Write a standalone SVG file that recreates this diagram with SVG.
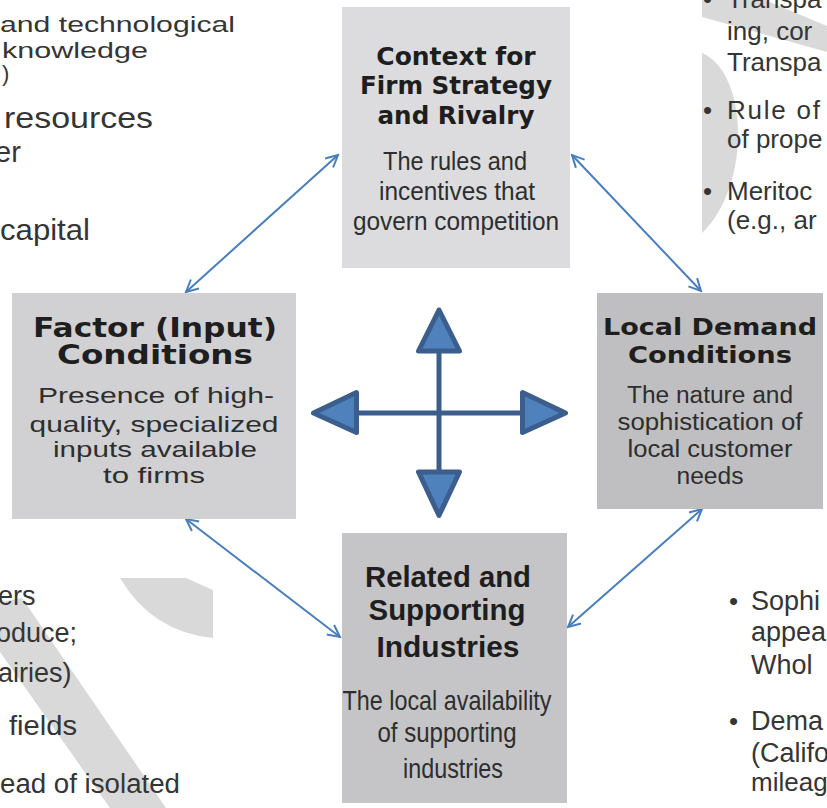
<svg xmlns="http://www.w3.org/2000/svg" width="827" height="808" viewBox="0 0 827 808">
<style>
.bg{font-family:"Liberation Sans",Arial,sans-serif;fill:#353535}
.ttl{font-family:"DejaVu Sans",sans-serif;font-weight:bold;fill:#1e1e1e;text-anchor:middle}
.ttl2{font-family:"Liberation Sans",Arial,sans-serif;font-weight:bold;fill:#1e1e1e;text-anchor:middle}
.sub{font-family:"Liberation Sans",Arial,sans-serif;fill:#2e2e2e;text-anchor:middle}
.wm{fill:#d9d9d9}
.conn{stroke:#4a7ebb;stroke-width:2;fill:none;marker-start:url(#ah);marker-end:url(#ah)}
.cross line{stroke:#3b5e8c;stroke-width:5}
.cross polygon{fill:#4f81bd;stroke:#3b5e8c;stroke-width:5;stroke-linejoin:round}
</style>
<defs>
<marker id="ah" viewBox="0 0 16 16" refX="14" refY="8" markerWidth="16" markerHeight="16" markerUnits="userSpaceOnUse" orient="auto-start-reverse">
<path d="M2,2 L14,8 L2,14" fill="none" stroke="#4a7ebb" stroke-width="2"/>
</marker>
</defs>
<rect width="827" height="808" fill="#ffffff"/>
<g id="watermark">
<path class="wm" d="M702,0 L765,0 L827,26 L827,52 L702,17 Z"/>
<path class="wm" d="M702,53 C748,72 752,185 702,233 Z"/>
<path class="wm" d="M120,578 L213,578 L213,638 Q152,632 120,578 Z"/>
<path d="M186,578 L213,590 L213,578 Z" fill="#ffffff"/>
<path class="wm" d="M0,602 L22,598 L166,808 L110,808 L0,652 Z"/>
</g>
<g id="background-text" class="bg">
<text x="0" y="32" font-size="22" textLength="235" lengthAdjust="spacingAndGlyphs">and technological</text>
<text x="2" y="58" font-size="22" textLength="146" lengthAdjust="spacingAndGlyphs">knowledge</text>
<text x="2" y="81" font-size="22">)</text>
<text x="4" y="128" font-size="29" textLength="149" lengthAdjust="spacingAndGlyphs">resources</text>
<text x="-5" y="162" font-size="29">er</text>
<text x="0" y="240" font-size="29" textLength="90" lengthAdjust="spacingAndGlyphs">capital</text>
<text x="-2" y="605" font-size="27">ers</text>
<text x="-4" y="642" font-size="27">oduce;</text>
<text x="-2" y="682" font-size="27">airies)</text>
<text x="9" y="735" font-size="27" textLength="68" lengthAdjust="spacingAndGlyphs">fields</text>
<text x="0" y="793" font-size="27" textLength="180" lengthAdjust="spacingAndGlyphs">ead of isolated</text>
<text x="703" y="8" font-size="26">•</text>
<text x="727" y="8" font-size="26">Transpa</text>
<text x="727" y="40" font-size="26">ing, cor</text>
<text x="727" y="71" font-size="26">Transpa</text>
<text x="703" y="119" font-size="26">•</text>
<text x="727" y="119" font-size="26" textLength="93" lengthAdjust="spacing">Rule of</text>
<text x="727" y="148" font-size="26">of prope</text>
<text x="703" y="200" font-size="26">•</text>
<text x="727" y="200" font-size="26">Meritoc</text>
<text x="727" y="229" font-size="26">(e.g., ar</text>
<text x="729" y="610" font-size="26">•</text>
<text x="751" y="610" font-size="27">Sophi</text>
<text x="751" y="641" font-size="27">appea</text>
<text x="751" y="674" font-size="27">Whol</text>
<text x="729" y="730" font-size="26">•</text>
<text x="751" y="730" font-size="27">Dema</text>
<text x="751" y="762" font-size="27">(Califo</text>
<text x="751" y="791" font-size="26">mileag</text>
</g>
<g id="connectors">
<line class="conn" x1="186" y1="292" x2="338" y2="155"/>
<line class="conn" x1="572" y1="155" x2="701" y2="291"/>
<line class="conn" x1="186" y1="519" x2="340" y2="637"/>
<line class="conn" x1="702" y1="509" x2="568" y2="627"/>
</g>
<g id="node-context">
<rect x="342" y="7" width="228" height="261" fill="#dcdcde"/>
<text class="ttl" x="456" y="65" font-size="25">Context for</text>
<text class="ttl" x="456" y="94" font-size="25" textLength="192" lengthAdjust="spacingAndGlyphs">Firm Strategy</text>
<text class="ttl" x="456" y="124" font-size="25" textLength="157" lengthAdjust="spacingAndGlyphs">and Rivalry</text>
<text class="sub" x="455" y="170" font-size="25" textLength="144" lengthAdjust="spacingAndGlyphs">The rules and</text>
<text class="sub" x="457" y="200" font-size="25" textLength="156" lengthAdjust="spacingAndGlyphs">incentives that</text>
<text class="sub" x="456" y="230" font-size="25" textLength="206" lengthAdjust="spacingAndGlyphs">govern competition</text>
</g>
<g id="node-factor">
<rect x="12" y="293" width="284" height="226" fill="#d1d1d3"/>
<text class="ttl" x="155" y="337" font-size="26" textLength="244" lengthAdjust="spacingAndGlyphs">Factor (Input)</text>
<text class="ttl" x="155" y="364" font-size="26" textLength="196" lengthAdjust="spacingAndGlyphs">Conditions</text>
<text class="sub" x="156" y="403" font-size="22" textLength="236" lengthAdjust="spacingAndGlyphs">Presence of high-</text>
<text class="sub" x="154" y="432" font-size="22" textLength="249" lengthAdjust="spacingAndGlyphs">quality, specialized</text>
<text class="sub" x="155" y="457" font-size="22" textLength="204" lengthAdjust="spacingAndGlyphs">inputs available</text>
<text class="sub" x="154" y="483" font-size="22" textLength="102" lengthAdjust="spacingAndGlyphs">to firms</text>
</g>
<g id="node-demand">
<rect x="597" y="293" width="226" height="216" fill="#bfbfc1"/>
<text class="ttl" x="710" y="335" font-size="23.5" textLength="214" lengthAdjust="spacingAndGlyphs">Local Demand</text>
<text class="ttl" x="710" y="363" font-size="23.5" textLength="164" lengthAdjust="spacingAndGlyphs">Conditions</text>
<text class="sub" x="710" y="403" font-size="23" textLength="166" lengthAdjust="spacingAndGlyphs">The nature and</text>
<text class="sub" x="710" y="430" font-size="23" textLength="185" lengthAdjust="spacingAndGlyphs">sophistication of</text>
<text class="sub" x="710" y="457" font-size="23" textLength="165" lengthAdjust="spacingAndGlyphs">local customer</text>
<text class="sub" x="710" y="484" font-size="23" textLength="67" lengthAdjust="spacingAndGlyphs">needs</text>
</g>
<g id="node-related">
<rect x="342" y="533" width="225" height="270" fill="#c5c5c7"/>
<text class="ttl2" x="448" y="587" font-size="29" textLength="166" lengthAdjust="spacingAndGlyphs">Related and</text>
<text class="ttl2" x="447" y="620" font-size="29" textLength="157" lengthAdjust="spacingAndGlyphs">Supporting</text>
<text class="ttl2" x="448" y="657" font-size="29" textLength="143" lengthAdjust="spacingAndGlyphs">Industries</text>
<text class="sub" x="447" y="710" font-size="28" textLength="209" lengthAdjust="spacingAndGlyphs">The local availability</text>
<text class="sub" x="447" y="742" font-size="28" textLength="139" lengthAdjust="spacingAndGlyphs">of supporting</text>
<text class="sub" x="453" y="778" font-size="28" textLength="100" lengthAdjust="spacingAndGlyphs">industries</text>
</g>
<g id="center-arrows" class="cross">
<line x1="439" y1="351" x2="439" y2="472"/>
<line x1="356" y1="413" x2="523" y2="413"/>
<polygon points="439,310 418.5,351 459.5,351"/>
<polygon points="418.5,472 459.5,472 439,515.5"/>
<polygon points="313.5,413 356.5,392.5 356.5,432.5"/>
<polygon points="522.5,392.5 522.5,432.5 565.5,413"/>
</g>
</svg>
